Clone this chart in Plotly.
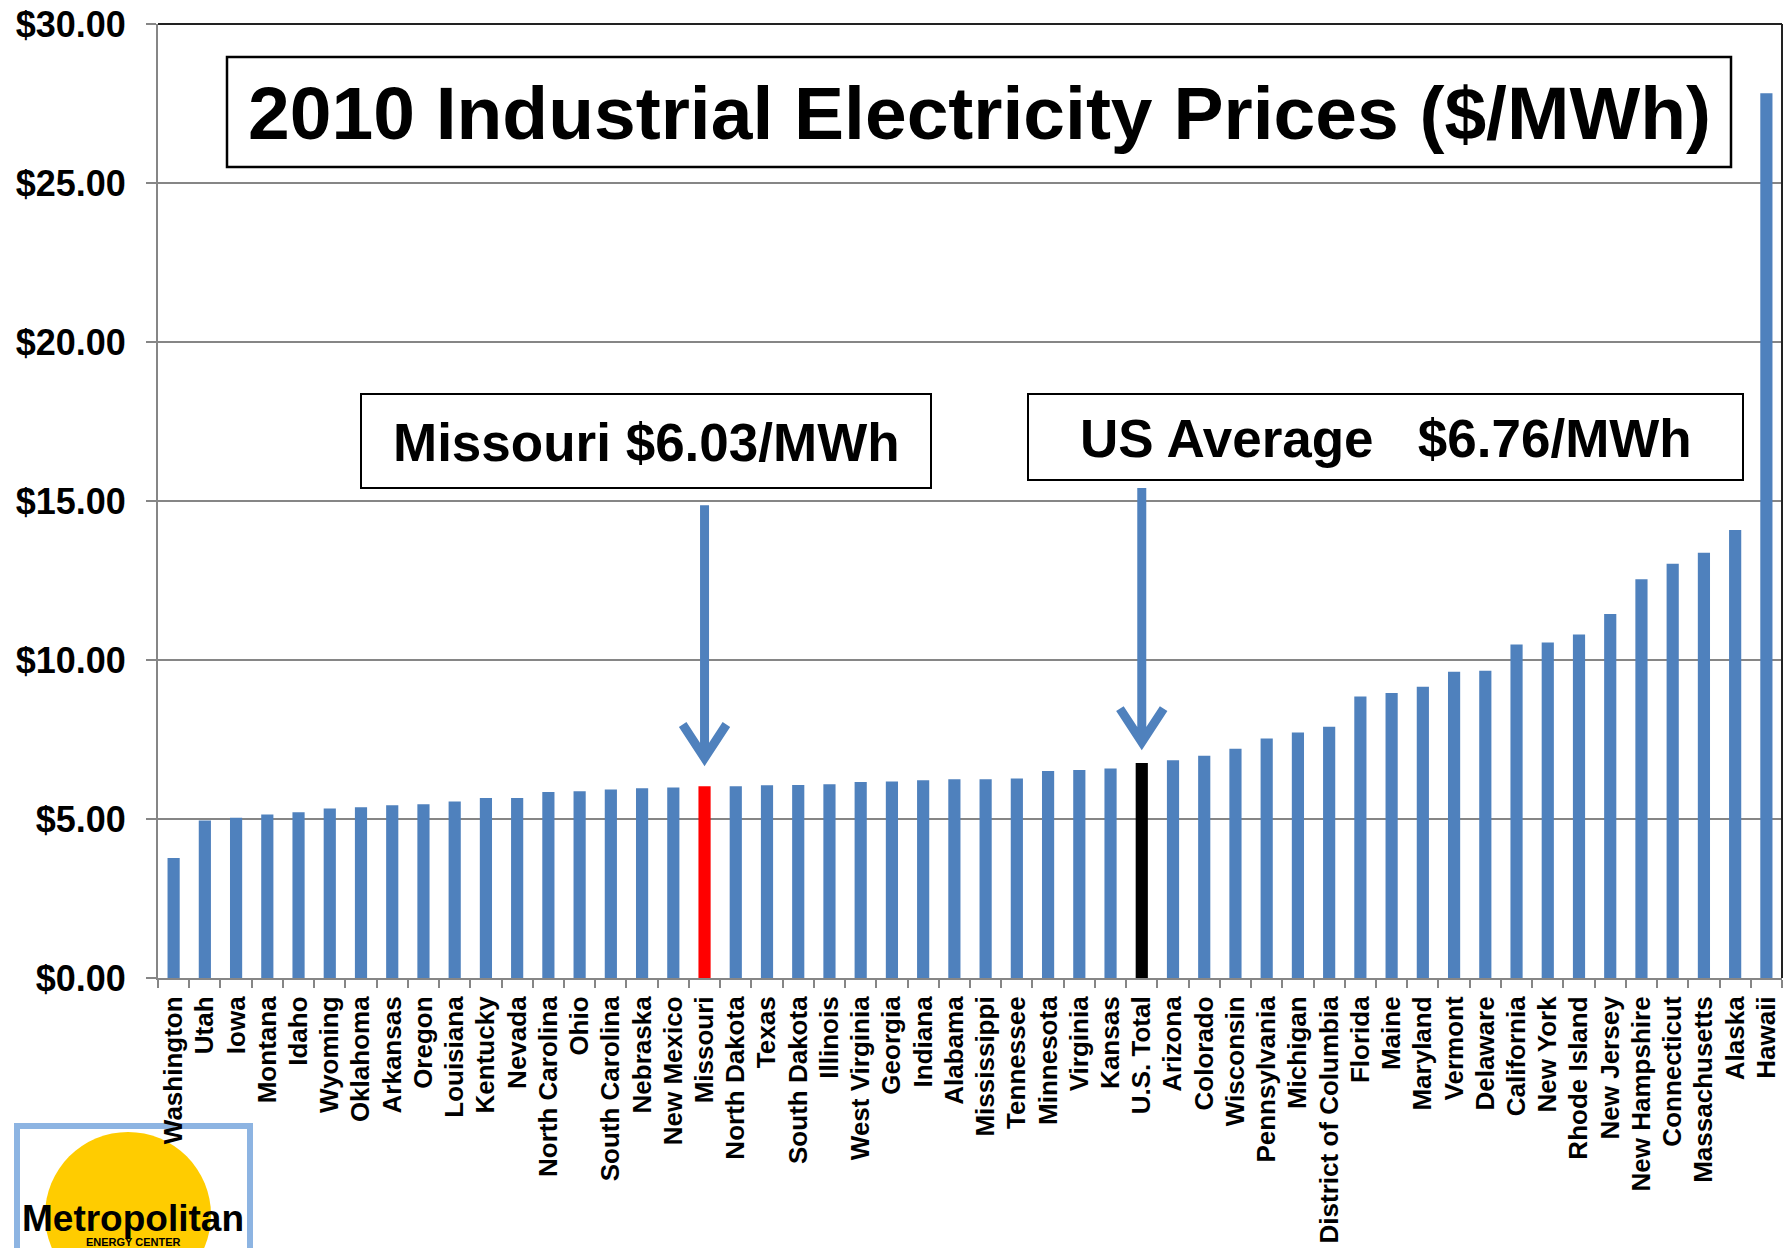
import plotly.graph_objects as go

# ---------------- data ----------------
states = [
    "Washington", "Utah", "Iowa", "Montana", "Idaho", "Wyoming", "Oklahoma",
    "Arkansas", "Oregon", "Louisiana", "Kentucky", "Nevada", "North Carolina",
    "Ohio", "South Carolina", "Nebraska", "New Mexico", "Missouri",
    "North Dakota", "Texas", "South Dakota", "Illinois", "West Virginia",
    "Georgia", "Indiana", "Alabama", "Mississippi", "Tennessee", "Minnesota",
    "Virginia", "Kansas", "U.S. Total", "Arizona", "Colorado", "Wisconsin",
    "Pennsylvania", "Michigan", "District of Columbia", "Florida", "Maine",
    "Maryland", "Vermont", "Delaware", "California", "New York",
    "Rhode Island", "New Jersey", "New Hampshire", "Connecticut",
    "Massachusetts", "Alaska", "Hawaii",
]
prices = [
    3.77, 4.95, 5.04, 5.14, 5.21, 5.33, 5.37,
    5.43, 5.46, 5.55, 5.66, 5.66, 5.85,
    5.87, 5.93, 5.97, 5.99, 6.03,
    6.03, 6.06, 6.07, 6.09, 6.16,
    6.18, 6.22, 6.25, 6.25, 6.27, 6.51,
    6.54, 6.59, 6.76, 6.85, 6.99, 7.21,
    7.53, 7.72, 7.90, 8.85, 8.96,
    9.16, 9.63, 9.66, 10.49, 10.55,
    10.80, 11.45, 12.54, 13.03,
    13.37, 14.09, 27.82,
]
y_ticks = [0, 5, 10, 15, 20, 25, 30]
y_tick_labels = ["$0.00", "$5.00", "$10.00", "$15.00", "$20.00", "$25.00", "$30.00"]

title_text = "2010 Industrial Electricity Prices ($/MWh)"
missouri_text = "Missouri $6.03/MWh"
us_text = "US Average\u00a0\u00a0\u00a0$6.76/MWh"

# ---------------- styling ----------------
BLUE = "#4F81BD"
GRAY = "#868686"
FONT = "Liberation Sans, Arial, sans-serif"

W, H = 1789, 1248
L, R, T, B = 158, 7, 24, 270
PW, PH = W - L - R, H - T - B


def px_x(x):
    return (x - L) / PW


def px_y(y):
    return (H - B - y) / PH


colors = []
for s in states:
    if s == "Missouri":
        colors.append("#FF0000")
    elif s == "U.S. Total":
        colors.append("#000000")
    else:
        colors.append(BLUE)

fig = go.Figure()
fig.add_trace(go.Bar(x=states, y=prices, marker=dict(color=colors, line=dict(width=0)),
                     hoverinfo="x+y"))

shapes = []
annotations = []

# plot frame (top / right dark border)
shapes.append(dict(type="line", xref="paper", yref="paper", x0=0, x1=1, y0=1, y1=1,
                   line=dict(color="#222222", width=2), layer="above"))
shapes.append(dict(type="line", xref="paper", yref="paper", x0=1, x1=1, y0=0, y1=1,
                   line=dict(color="#222222", width=2), layer="above"))


def text_box(x0, x1, y0, y1, text, size, bw):
    shapes.append(dict(type="rect", xref="paper", yref="paper",
                       x0=px_x(x0), x1=px_x(x1), y0=px_y(y1), y1=px_y(y0),
                       line=dict(color="black", width=bw), fillcolor="white",
                       layer="above"))
    annotations.append(dict(xref="paper", yref="paper",
                            x=px_x((x0 + x1) / 2), y=px_y((y0 + y1) / 2 + 1),
                            xanchor="center", yanchor="middle", showarrow=False,
                            text="<b>%s</b>" % text,
                            font=dict(family=FONT, size=size, color="black")))


text_box(227, 1731, 57, 167, title_text, 75, 2.5)
text_box(361, 931, 394, 488, missouri_text, 53, 2)
text_box(1028, 1743, 394, 480, us_text, 53, 2)

# arrows (open V heads)
WING_DX = 0.70   # category units
WING_DY = 1.05   # value units


def arrow(state, top, tip_offset):
    i = states.index(state)
    tip = prices[i] + tip_offset
    path = "M %f,%f L %f,%f M %f,%f L %f,%f L %f,%f" % (
        i, top, i, tip + 0.15,
        i - WING_DX, tip + WING_DY, i, tip, i + WING_DX, tip + WING_DY)
    shapes.append(dict(type="path", xref="x", yref="y", path=path,
                       line=dict(color=BLUE, width=9), layer="above"))


arrow("Missouri", 14.87, 0.89)
arrow("U.S. Total", 15.41, 0.66)

# logo (bottom-left), drawn below the axis labels
shapes.append(dict(type="rect", xref="paper", yref="paper",
                   x0=px_x(17), x1=px_x(250), y0=px_y(1300), y1=px_y(1126),
                   line=dict(color="#8DB4E2", width=6), fillcolor="white", layer="below"))
shapes.append(dict(type="circle", xref="paper", yref="paper",
                   x0=px_x(45), x1=px_x(211), y0=px_y(1298), y1=px_y(1132),
                   line=dict(width=0), fillcolor="#FFCC00", layer="below"))
annotations.append(dict(xref="paper", yref="paper", x=px_x(133), y=px_y(1218),
                        xanchor="center", yanchor="middle", showarrow=False,
                        text="<b>Metropolitan</b>",
                        font=dict(family=FONT, size=37, color="black")))
annotations.append(dict(xref="paper", yref="paper", x=px_x(133), y=px_y(1242),
                        xanchor="center", yanchor="middle", showarrow=False,
                        text="<b>ENERGY CENTER</b>",
                        font=dict(family=FONT, size=11, color="black")))

fig.update_layout(
    width=W, height=H, autosize=False,
    margin=dict(l=L, r=R, t=T, b=B, pad=0, autoexpand=False),
    paper_bgcolor="white", plot_bgcolor="white",
    showlegend=False, bargap=0.61,
    shapes=shapes, annotations=annotations,
    font=dict(family=FONT, color="black"),
    xaxis=dict(type="category", tickson="boundaries", ticks="outside", ticklen=8,
               tickwidth=2, tickcolor=GRAY, tickangle=-90, showline=True,
               linecolor=GRAY, linewidth=2, showgrid=False, automargin=False,
               tickfont=dict(family=FONT, size=26, color="black", weight="bold"),
               ticklabelstandoff=6, range=[-0.5, len(states) - 0.5]),
    yaxis=dict(range=[0, 30], tickvals=y_ticks, ticktext=y_tick_labels,
               showgrid=True, gridcolor=GRAY, gridwidth=2, showline=True,
               linecolor=GRAY, linewidth=2, ticks="outside", ticklen=10,
               tickwidth=2, tickcolor=GRAY, zeroline=False, automargin=False,
               tickfont=dict(family=FONT, size=36, color="black", weight="bold"),
               ticklabelstandoff=13),
)

fig.write_html("out.html",
               config={"displayModeBar": False},
               post_script="document.body.style.margin='0';"
                           "document.body.style.overflow='hidden';")
